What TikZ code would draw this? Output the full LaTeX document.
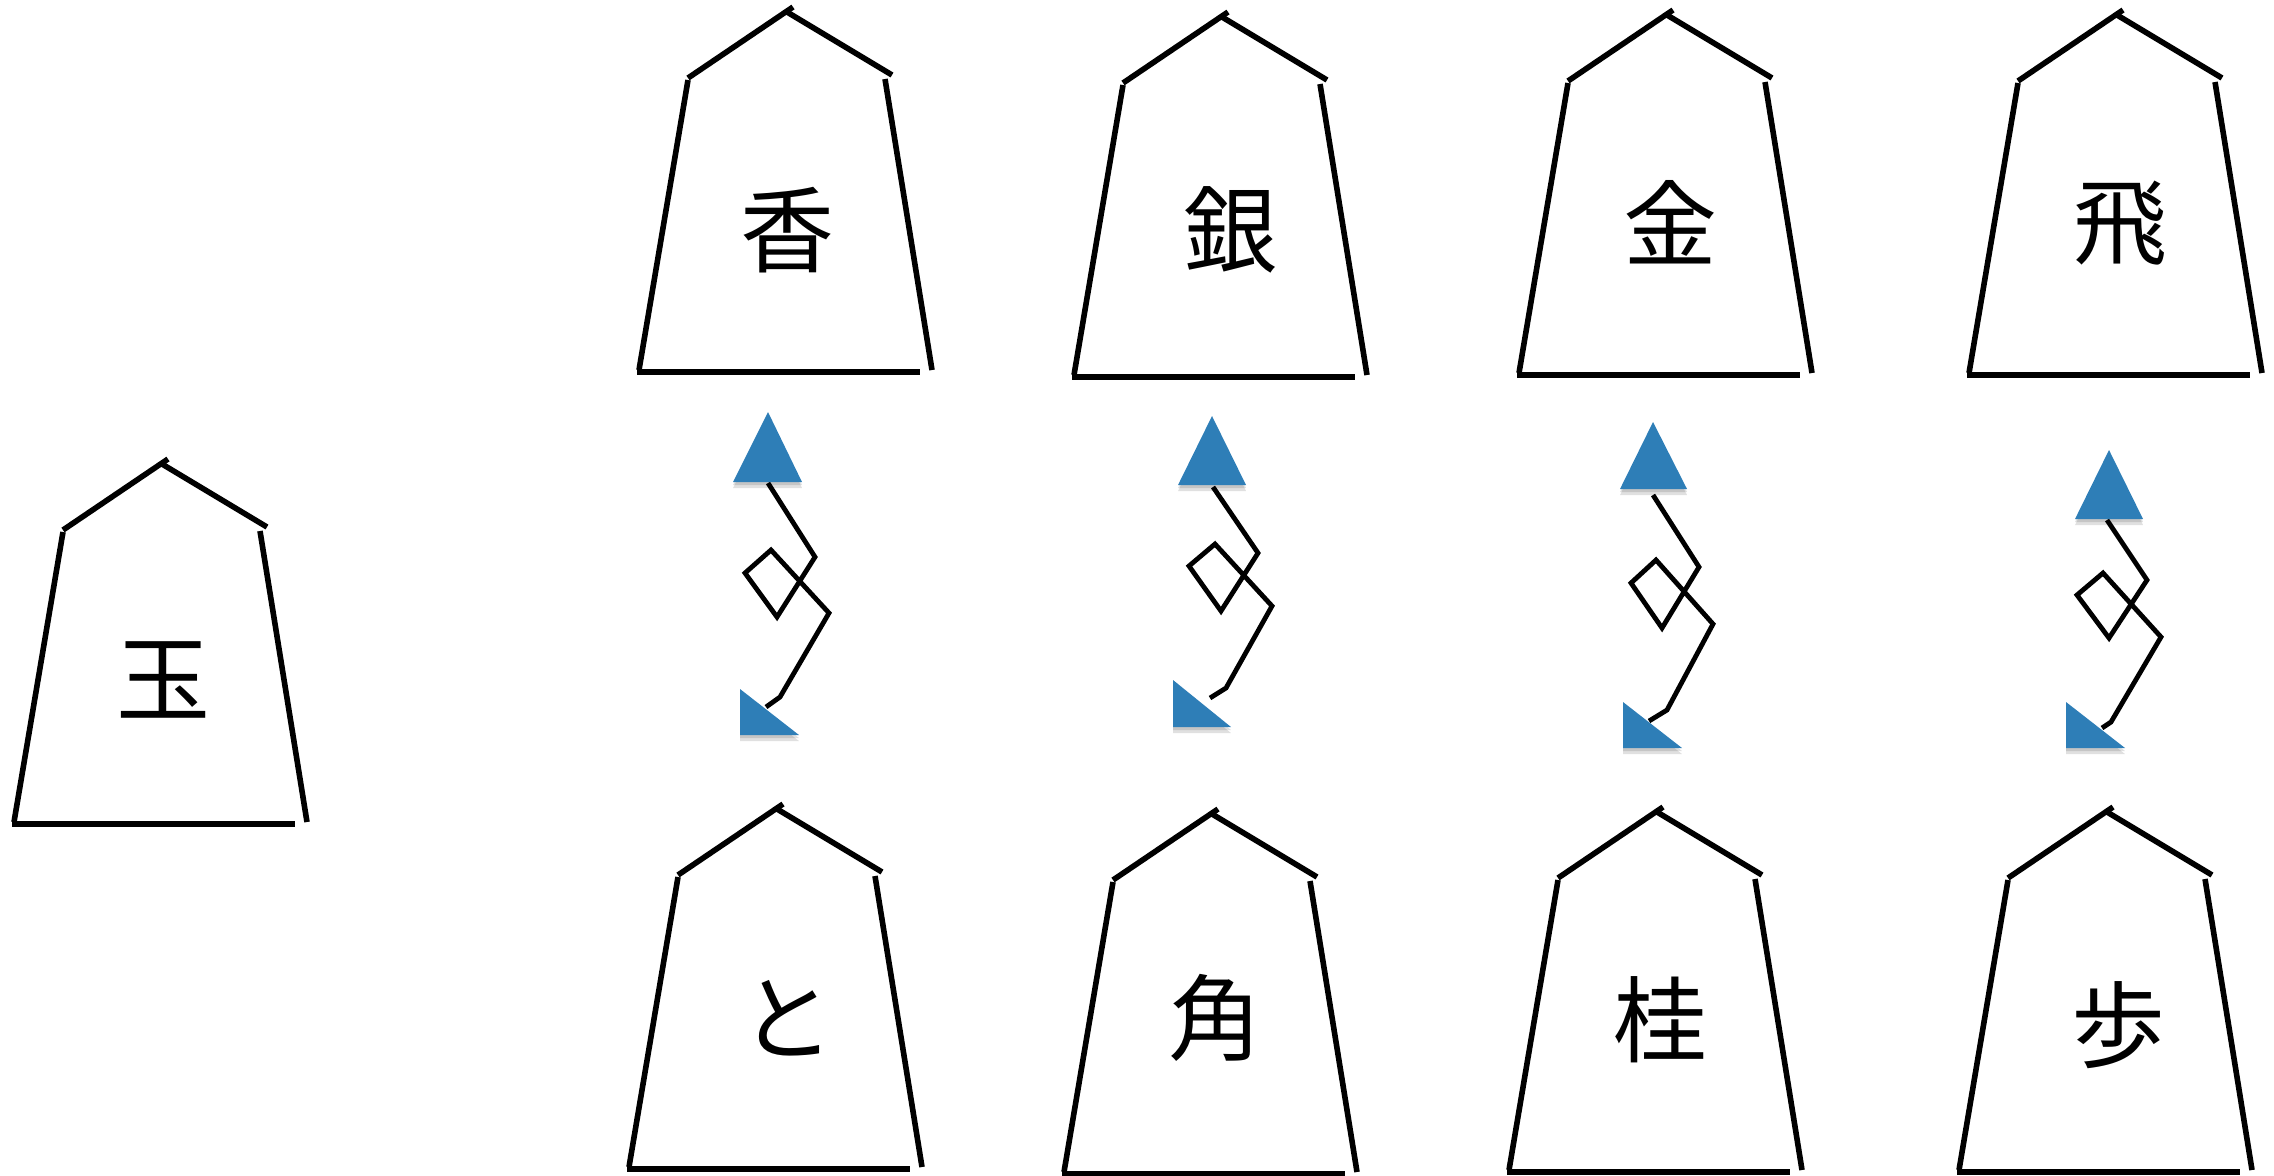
\documentclass[tikz,border=0pt]{standalone}
\usepackage{fontspec}
\newfontfamily\cjk{Noto Sans CJK JP}
\usetikzlibrary{shadows}
\definecolor{promoblue}{RGB}{46,126,183}
\tikzset{
  outline/.style={line width=2.8pt, line cap=butt},
  glyph/.style={inner sep=0pt, font=\cjk\fontsize{47pt}{47pt}\selectfont},
  knot/.style={line width=2.4pt, line join=miter},
  tri/.style={fill=promoblue, draw=none,
    drop shadow={shadow xshift=0pt, shadow yshift=-3pt, fill=black, opacity=0.12},
    drop shadow={shadow xshift=0pt, shadow yshift=-1.5pt, fill=black, opacity=0.12}},
  pics/piece/.style={code={
    \draw[outline] (-100,68) -- (5,-3);
    \draw[outline] (-1,2) -- (104,65);
    \draw[outline] (97,69) -- (144,360);
    \draw[outline] (-100,70) -- (-149,360);
    \draw[outline] (-151,362) -- (132,362);
  }}
}
\begin{document}
\begin{tikzpicture}[x=0.5pt,y=-0.5pt]
\useasboundingbox (0,0) rectangle (2274,1175);
% pieces
\pic (p0) at (163,462) {piece};
\pic (p1) at (788,10) {piece};
\pic (p2) at (1223,15) {piece};
\pic (p3) at (1668,13) {piece};
\pic (p4) at (2118,13) {piece};
\pic (p5) at (778,807) {piece};
\pic (p6) at (1213,812) {piece};
\pic (p7) at (1658,810) {piece};
\pic (p8) at (2108,810) {piece};
% labels
\node[glyph] (gyoku) at (163,680) {玉};
\node[glyph] (kyo) at (787,230) {香};
\node[glyph] (gin) at (1230,230) {銀};
\node[glyph] (kin) at (1670,222) {金};
\node[glyph] (hi) at (2120,223) {飛};
\node[glyph] (to) at (787,1018) {と};
\node[glyph] (kaku) at (1215,1018) {角};
\node[glyph] (kei) at (1660,1020) {桂};
\node[glyph] (fu) at (2118,1025) {歩};
% promotion symbols: column 1
\draw[knot] (768,483) -- (815,557) -- (777,617) -- (745,573) -- (771,550) -- (829,613) -- (780,697) -- (766,707);
\fill[tri] (768,412) -- (802,482) -- (733,482) -- cycle;
\fill[tri] (740,689) -- (799,735) -- (740,735) -- cycle;
% column 2
\draw[knot] (1213,487) -- (1258,553) -- (1221,611) -- (1189,566) -- (1215,544) -- (1272,606) -- (1226,688) -- (1210,698);
\fill[tri] (1212,416) -- (1246,485) -- (1178,485) -- cycle;
\fill[tri] (1173,680) -- (1231,727) -- (1173,727) -- cycle;
% column 3
\draw[knot] (1653,495) -- (1699,567) -- (1662,628) -- (1631,583) -- (1656,560) -- (1713,624) -- (1667,710) -- (1649,721);
\fill[tri] (1653,422) -- (1687,489) -- (1620,489) -- cycle;
\fill[tri] (1623,702) -- (1682,748) -- (1623,748) -- cycle;
% column 4
\draw[knot] (2107,520) -- (2147,580) -- (2109,638) -- (2077,595) -- (2103,573) -- (2161,637) -- (2111,722) -- (2102,728);
\fill[tri] (2109,450) -- (2143,519) -- (2075,519) -- cycle;
\fill[tri] (2066,702) -- (2125,748) -- (2066,748) -- cycle;
\end{tikzpicture}
\end{document}
